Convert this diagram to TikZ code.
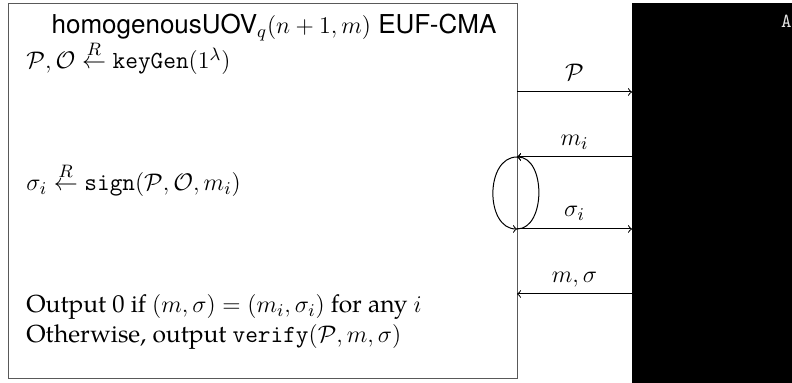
\documentclass[tikz,border=0pt]{standalone}
\usepackage{amsmath}
\usepackage{fontspec}
\setmainfont{TeX Gyre Pagella}
\setsansfont{TeX Gyre Heros}
\begin{document}
\begin{tikzpicture}[x=0.5pt,y=-0.5pt,>=to,
  txt/.style={anchor=base west, inner sep=0pt, font=\fontsize{12.3}{14}\selectfont},
  lbl/.style={anchor=base, inner sep=0pt, font=\fontsize{12.3}{14}\selectfont},
  msg/.style={->, line width=0.5pt}]
\useasboundingbox (0,0) rectangle (792,383);
\node[draw=black!65, line width=0.7pt, minimum width=254.5pt, minimum height=187.5pt, inner sep=0pt, anchor=north west] (chal) at (8,3) {};
\node[fill=black, minimum width=80pt, minimum height=190pt, anchor=north west, inner sep=0pt] (adv) at (632,3) {};
\node[anchor=east, inner sep=0pt, text=gray!20, font=\ttfamily\fontsize{10}{12}\selectfont] (advlabel) at (792,21) {A};

\node[anchor=base, inner sep=0pt, font=\sffamily\fontsize{13}{15}\selectfont] (title) at (274,34) {homogenousUOV$_q(n+1,m)$ EUF-CMA};
\node[txt] (kg) at (26,69) {$\mathcal{P},\mathcal{O} \stackrel{R}{\leftarrow} \texttt{keyGen}(1^\lambda)$};
\node[txt] (sg) at (26,191) {$\sigma_i \stackrel{R}{\leftarrow} \texttt{sign}(\mathcal{P},\mathcal{O},m_i)$};
\node[txt] (out1) at (26,313) {Output 0 if $(m,\sigma)=(m_i,\sigma_i)$ for any $i$};
\node[txt] (out2) at (26,343) {Otherwise, output $\texttt{verify}(\mathcal{P},m,\sigma)$};

\coordinate (a1) at (517,92);  \coordinate (b1) at (632,92);
\coordinate (a2) at (517,157); \coordinate (b2) at (632,157);
\coordinate (a3) at (517,229); \coordinate (b3) at (632,229);
\coordinate (a4) at (517,294); \coordinate (b4) at (632,294);

\draw[msg] (a1) -- (b1);
\node[lbl] (l1) at (574.5,81) {$\mathcal{P}$};
\draw[msg] (b2) -- (a2);
\node[lbl] (l2) at (574.5,146) {$m_i$};
\draw[msg] (a3) -- (b3);
\node[lbl] (l3) at (574.5,217) {$\sigma_i$};
\draw[msg] (b4) -- (a4);
\node[lbl] (l4) at (574.5,283) {$m,\sigma$};

\draw[msg] (a2) .. controls (485,157) and (485,229) .. (a3);
\draw[msg] (a3) .. controls (546,229) and (546,157) .. (a2);
\end{tikzpicture}
\end{document}
